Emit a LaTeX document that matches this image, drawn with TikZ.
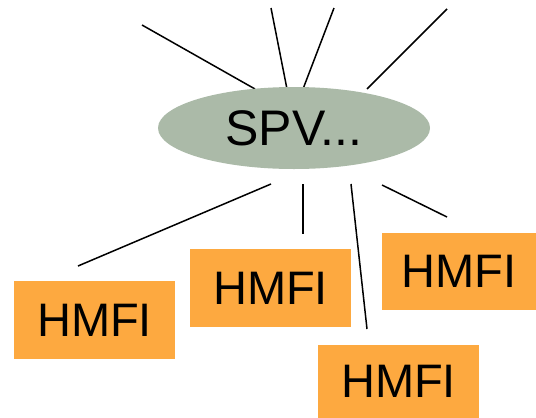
\documentclass[tikz,border=0pt]{standalone}
\usepackage{fontspec}
\setmainfont{Liberation Sans}
\usetikzlibrary{shapes.geometric}
\definecolor{spvgreen}{RGB}{171,186,168}
\definecolor{hmfiorange}{RGB}{253,169,64}
\begin{document}
\begin{tikzpicture}[x=1pt,y=-1pt,
  spvnode/.style={ellipse, fill=spvgreen, inner sep=0pt, minimum width=272pt, minimum height=82pt, font=\fontsize{50}{50}\selectfont},
  hmfibox/.style={rectangle, fill=hmfiorange, inner sep=0pt, font=\fontsize{47}{47}\selectfont},
  link/.style={line width=1.5pt, black}]
\useasboundingbox (0,0) rectangle (536,418);
% top free ends
\coordinate (t1a) at (142,25);  \coordinate (t1b) at (255,89);
\coordinate (t2a) at (271,8);   \coordinate (t2b) at (287,89);
\coordinate (t3a) at (334,8);   \coordinate (t3b) at (303,89);
\coordinate (t4a) at (447,9);   \coordinate (t4b) at (367,89);
% bottom free ends
\coordinate (b1a) at (271,184); \coordinate (b1b) at (78,266);
\coordinate (b2a) at (303,184); \coordinate (b2b) at (303,234);
\coordinate (b3a) at (351,184); \coordinate (b3b) at (367,329);
\coordinate (b4a) at (382,185); \coordinate (b4b) at (447,217);
\draw[link] (t1a) -- (t1b);
\draw[link] (t2a) -- (t2b);
\draw[link] (t3a) -- (t3b);
\draw[link] (t4a) -- (t4b);
\draw[link] (b1a) -- (b1b);
\draw[link] (b2a) -- (b2b);
\draw[link] (b3a) -- (b3b);
\draw[link] (b4a) -- (b4b);
\node[spvnode] (spv) at (294,128) {SPV...};
\node[hmfibox, minimum width=161pt, minimum height=78pt] (h1) at (94.5,320) {HMFI\hspace{4pt}};
\node[hmfibox, minimum width=161pt, minimum height=78pt] (h2) at (270.5,288) {HMFI\hspace{4pt}};
\node[hmfibox, minimum width=154pt, minimum height=77pt] (h3) at (459,271.5) {HMFI};
\node[hmfibox, minimum width=161pt, minimum height=73pt] (h4) at (398.5,381.5) {HMFI\hspace{4pt}};
\end{tikzpicture}
\end{document}
